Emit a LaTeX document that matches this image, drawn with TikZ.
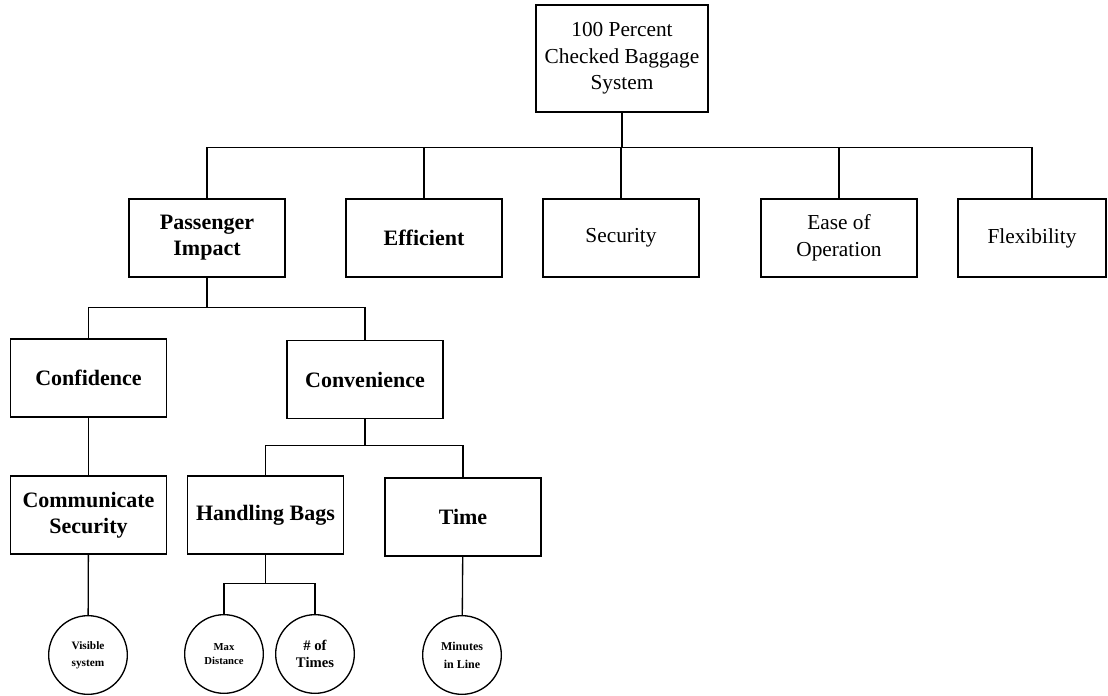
\documentclass[tikz,border=0pt]{standalone}
\usepackage{fontspec}
\setmainfont{Liberation Serif}
\usepackage{tikz}
\usetikzlibrary{positioning, calc}

\begin{document}
\begin{tikzpicture}[x=0.75pt, y=-0.75pt, line width=1pt,
    goal/.style={draw, minimum width=117pt, minimum height=58.5pt, inner sep=0pt, align=center, font=\fontsize{16}{20}\selectfont},
    bgoal/.style={goal, font=\fontsize{16.5}{19.5}\selectfont\bfseries},
    measure/.style={circle, draw, minimum size=59pt, inner sep=0pt, align=center}]
    \useasboundingbox (0,0) rectangle (1108,696);

    \node[goal, minimum width=129pt, minimum height=80.25pt] (top) at (622,58.5) {100 Percent\\Checked Baggage\\System};

    \node[bgoal] (pax) at (207,238) {Passenger\\Impact};
    \node[bgoal] (eff) at (424,238) {Efficient};
    \node[goal] (sec) at (621,238) {Security};
    \node[goal] (ease) at (839,238) {Ease of\\Operation};
    \node[goal, minimum width=111pt] (flex) at (1032,238) {Flexibility};

    \node[bgoal] (conf) at (88.5,378) {Confidence};
    \node[bgoal] (conv) at (365,379.5) {Convenience};

    \node[bgoal] (comm) at (88.5,515) {Communicate\\Security};
    \node[bgoal] (bags) at (265.5,515) {Handling Bags};
    \node[bgoal] (time) at (463,517) {Time};

    \node[measure, font=\fontsize{8.5}{13}\selectfont\bfseries] (vis) at (88,655) {Visible\\system};
    \node[measure, font=\fontsize{8}{10}\selectfont\bfseries] (dist) at (224,654) {Max\\Distance};
    \node[measure, font=\fontsize{11}{12.5}\selectfont\bfseries] (times) at (315,654) {\# of\\Times};
    \node[measure, font=\fontsize{9}{13.5}\selectfont\bfseries] (mins) at (462,655) {Minutes\\in Line};

    % top level
    \foreach \n in {pax, eff, sec, ease, flex}
        \draw (top.south) -- ++(0,35) -| (\n.north);
    % passenger impact
    \foreach \n in {conf, conv}
        \draw (pax.south) -- ++(0,30) -| (\n.north);
    \draw (conf) -- (comm);
    \foreach \n in {bags, time}
        \draw (conv.south) -- ++(0,26) -| (\n.north);
    % measures
    \draw (comm) -- (vis);
    \foreach \n in {dist, times}
        \draw (bags.south) -- ++(0,29) -| (\n.north);
    \draw (time) -- (mins);
\end{tikzpicture}
\end{document}
